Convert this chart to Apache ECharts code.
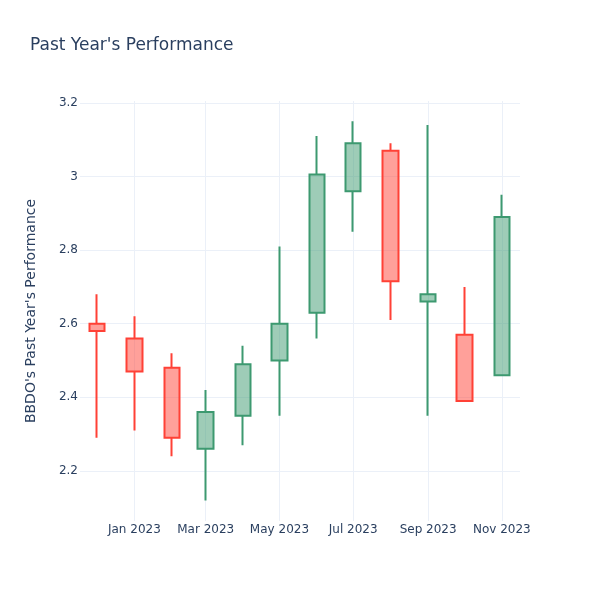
<!DOCTYPE html>
<html>
<head>
<meta charset="utf-8">
<script src="https://cdn.jsdelivr.net/npm/echarts@6/dist/echarts.min.js"></script>
<style>html,body{margin:0;padding:0;background:#fff}#c{width:600px;height:600px}</style>
</head>
<body>
<div id="c"></div>
<script>
const dates = ['2022-12-01','2023-01-01','2023-02-01','2023-03-01','2023-04-01','2023-05-01','2023-06-01','2023-07-01','2023-08-01','2023-09-01','2023-10-01','2023-11-01'];
const openVals  = [2.60, 2.56, 2.48, 2.26, 2.35, 2.50, 2.63, 2.96, 3.07, 2.66, 2.57, 2.46];
const closeVals = [2.58, 2.47, 2.29, 2.36, 2.49, 2.60, 3.005, 3.09, 2.715, 2.68, 2.39, 2.89];
const lowVals   = [2.29, 2.31, 2.24, 2.12, 2.27, 2.35, 2.56, 2.85, 2.61, 2.35, 2.39, 2.46];
const highVals  = [2.68, 2.62, 2.52, 2.42, 2.54, 2.81, 3.11, 3.15, 3.09, 3.14, 2.70, 2.95];

const FONT = 'DejaVu Sans';
const TXT = '#2a3f5f';
const GRID = '#ebf0f8';

const data = dates.map((d, i) => [d, openVals[i], closeVals[i], lowVals[i], highVals[i]]);

const chart = echarts.init(document.getElementById('c'), null, {renderer: 'canvas'});
chart.setOption({
  animation: false,
  backgroundColor: '#fff',
  title: {
    text: "Past Year's Performance",
    left: 30, top: 37, padding: 0,
    textStyle: {fontFamily: FONT, fontSize: 17, fontWeight: 'normal', color: TXT}
  },
  grid: {left: 80, right: 80, top: 101, bottom: 79, containLabel: false},
  xAxis: {
    type: 'time',
    min: '2022-11-17',
    max: '2023-11-16',
    axisLine: {show: false},
    axisTick: {show: false},
    splitLine: {show: true, showMinLine: false, showMaxLine: false, lineStyle: {color: GRID, width: 1}},
    axisLabel: {
      formatter: '{MMM} {yyyy}',
      fontFamily: FONT, fontSize: 12, color: TXT, margin: 3,
      showMinLabel: false, showMaxLabel: false
    }
  },
  yAxis: {
    type: 'value',
    min: 2.064,
    max: 3.205,
    splitNumber: 5,
    name: "BBDO's Past Year's Performance",
    nameLocation: 'middle',
    nameGap: 42,
    nameTextStyle: {fontFamily: FONT, fontSize: 14, color: TXT},
    axisLine: {show: false},
    axisTick: {show: false},
    splitLine: {show: true, showMinLine: false, showMaxLine: false, lineStyle: {color: GRID, width: 1}},
    axisLabel: {
      fontFamily: FONT, fontSize: 12, color: TXT, margin: 2,
      showMinLabel: false, showMaxLabel: false
    }
  },
  series: [{
    type: 'candlestick',
    barWidth: 16,
    encode: {x: 0, y: [1, 2, 3, 4]},
    data: data,
    itemStyle: {
      color: 'rgba(61,153,112,0.5)',
      color0: 'rgba(255,65,54,0.5)',
      borderColor: '#3D9970',
      borderColor0: '#FF4136',
      borderWidth: 2
    }
  }]
});
</script>
</body>
</html>
